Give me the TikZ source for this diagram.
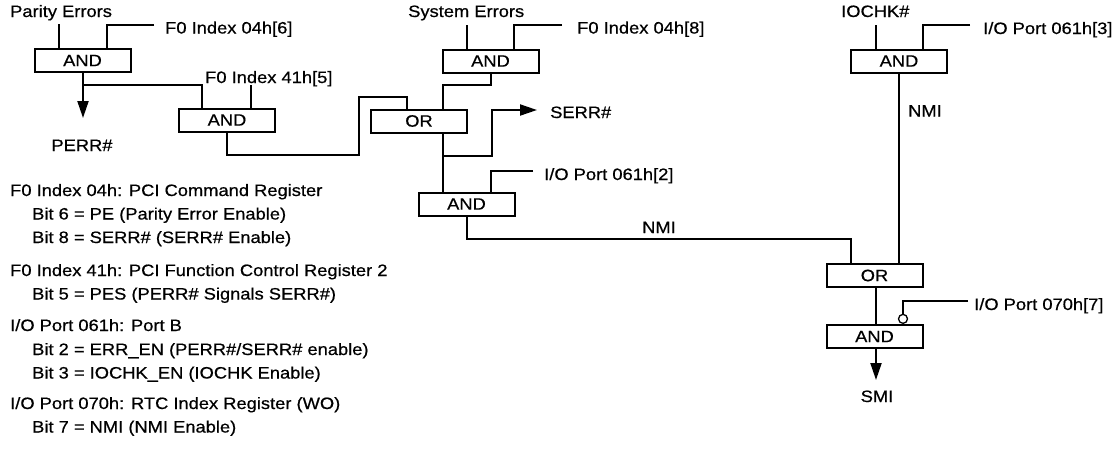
\documentclass[tikz,border=0pt]{standalone}
\usepackage{fontspec}
\setmainfont{Liberation Sans}[FakeStretch=1.11,FakeBold=0.6]
\usetikzlibrary{arrows.meta}
\begin{document}
\begin{tikzpicture}[x=1pt,y=-1pt,
  every node/.style={font=\fontsize{16.5pt}{19pt}\selectfont},
  gate/.style={draw, line width=2pt, minimum width=96pt, minimum height=23pt, inner sep=0pt},
  lbl/.style={anchor=base west, inner sep=0pt},
  wire/.style={line width=2pt},
  arr/.style={line width=2pt, -{Triangle[length=17pt,width=11pt]}}]
\useasboundingbox (0,0) rectangle (1117,456);

% gates
\node[gate] (and1) at (82.5,60.5) {AND};
\node[gate] (and2) at (227,120) {AND};
\node[gate] (and3) at (490.5,61) {AND};
\node[gate] (or1)  at (419,121) {OR};
\node[gate] (and4) at (466.5,204) {AND};
\node[gate] (and5) at (899,61) {AND};
\node[gate] (or2)  at (874.5,275.5) {OR};
\node[gate] (and6) at (874.5,336.5) {AND};

% signal labels
\node[lbl] (pe)   at (10,17)    {Parity Errors};
\node[lbl] (f6)   at (165,33.5) {F0 Index 04h[6]};
\node[lbl] (f5)   at (205,83)   {F0 Index 41h[5]};
\node[lbl] (se)   at (408,17)   {System Errors};
\node[lbl] (f8)   at (577,33.5) {F0 Index 04h[8]};
\node[lbl] (serr) at (550,118)  {SERR\#};
\node[lbl] (p2)   at (544,180)  {I/O Port 061h[2]};
\node[lbl] (nmi1) at (642,233)  {NMI};
\node[lbl] (iochk) at (841,17)  {IOCHK\#};
\node[lbl] (p3)   at (983,34)   {I/O Port 061h[3]};
\node[lbl] (nmi2) at (908,116.5) {NMI};
\node[lbl] (p7)   at (974,310)  {I/O Port 070h[7]};
\node[anchor=base, inner sep=0pt] (perr) at (82,151) {PERR\#};
\node[anchor=base, inner sep=0pt] (smi)  at (877,402) {SMI};

% legend
\node[lbl] (l1)  at (10,196)   {F0 Index 04h: PCI Command Register};
\node[lbl] (l2)  at (32,219.5) {Bit 6 = PE (Parity Error Enable)};
\node[lbl] (l3)  at (32,243)   {Bit 8 = SERR\# (SERR\# Enable)};
\node[lbl] (l4)  at (10,276)   {F0 Index 41h: PCI Function Control Register 2};
\node[lbl] (l5)  at (32,299.5) {Bit 5 = PES (PERR\# Signals SERR\#)};
\node[lbl] (l6)  at (10,331)   {I/O Port 061h: Port B};
\node[lbl] (l7)  at (32,355)   {Bit 2 = ERR\_EN (PERR\#/SERR\# enable)};
\node[lbl] (l8)  at (32,378.5) {Bit 3 = IOCHK\_EN (IOCHK Enable)};
\node[lbl] (l9)  at (10,409)   {I/O Port 070h: RTC Index Register (WO)};
\node[lbl] (l10) at (32,432.5) {Bit 7 = NMI (NMI Enable)};

% coordinates
\coordinate (a1) at (59,24);
\coordinate (b1) at (154,25);
\coordinate (b2) at (107,0);
\coordinate (t1) at (83,118);
\coordinate (j1) at (83,85);
\coordinate (x202) at (202,0);
\coordinate (j2) at (251,85);
\coordinate (k1) at (227,155);
\coordinate (k2) at (359,97);
\coordinate (k3) at (407,0);
\coordinate (e1) at (467,25);
\coordinate (g1) at (562,25);
\coordinate (g2) at (514,0);
\coordinate (m1) at (491,85);
\coordinate (m2) at (443,0);
\coordinate (s1) at (443,156);
\coordinate (s2) at (492,110);
\coordinate (s3) at (537,110);
\coordinate (q1) at (533,171);
\coordinate (q2) at (491,0);
\coordinate (n1) at (467,239);
\coordinate (n2) at (851,0);
\coordinate (i1) at (876,25);
\coordinate (r1) at (970,25);
\coordinate (r2) at (923,0);
\coordinate (u1) at (899,0);
\coordinate (v1) at (876,0);
\coordinate (w1) at (968,301);
\coordinate (w2) at (903,0);
\coordinate (t2) at (876,380);

% AND1
\draw[wire] (a1) -- (a1 |- and1.north);
\draw[wire] (b1) -| (b2 |- and1.north);
\draw[arr] (t1 |- and1.south) -- (t1);
\draw[wire] (j1) -| (x202 |- and2.north);
\draw[wire] (j2) -- (j2 |- and2.north);
% AND2 -> OR1
\draw[wire] (k1 |- and2.south) -- (k1) -| (k2) -| (k3 |- or1.north);
% AND3
\draw[wire] (e1) -- (e1 |- and3.north);
\draw[wire] (g1) -| (g2 |- and3.north);
\draw[wire] (m1 |- and3.south) -- (m1) -| (m2 |- or1.north);
% OR1
\draw[wire] (m2 |- or1.south) -- (m2 |- and4.north);
\draw[arr] (s1) -| (s2) -- (s3);
\draw[wire] (q1) -| (q2 |- and4.north);
% AND4 -> OR2
\draw[wire] (n1 |- and4.south) -- (n1) -| (n2 |- or2.north);
% AND5
\draw[wire] (i1) -- (i1 |- and5.north);
\draw[wire] (r1) -| (r2 |- and5.north);
\draw[wire] (u1 |- and5.south) -- (u1 |- or2.north);
% OR2 -> AND6
\draw[wire] (v1 |- or2.south) -- (v1 |- and6.north);
\node[circle, draw, line width=1.3pt, minimum size=9pt, inner sep=0pt, anchor=south] (inv) at (w2 |- and6.north) {};
\draw[wire] (w1) -| (inv.north);
\draw[arr] (v1 |- and6.south) -- (t2);
\end{tikzpicture}
\end{document}
